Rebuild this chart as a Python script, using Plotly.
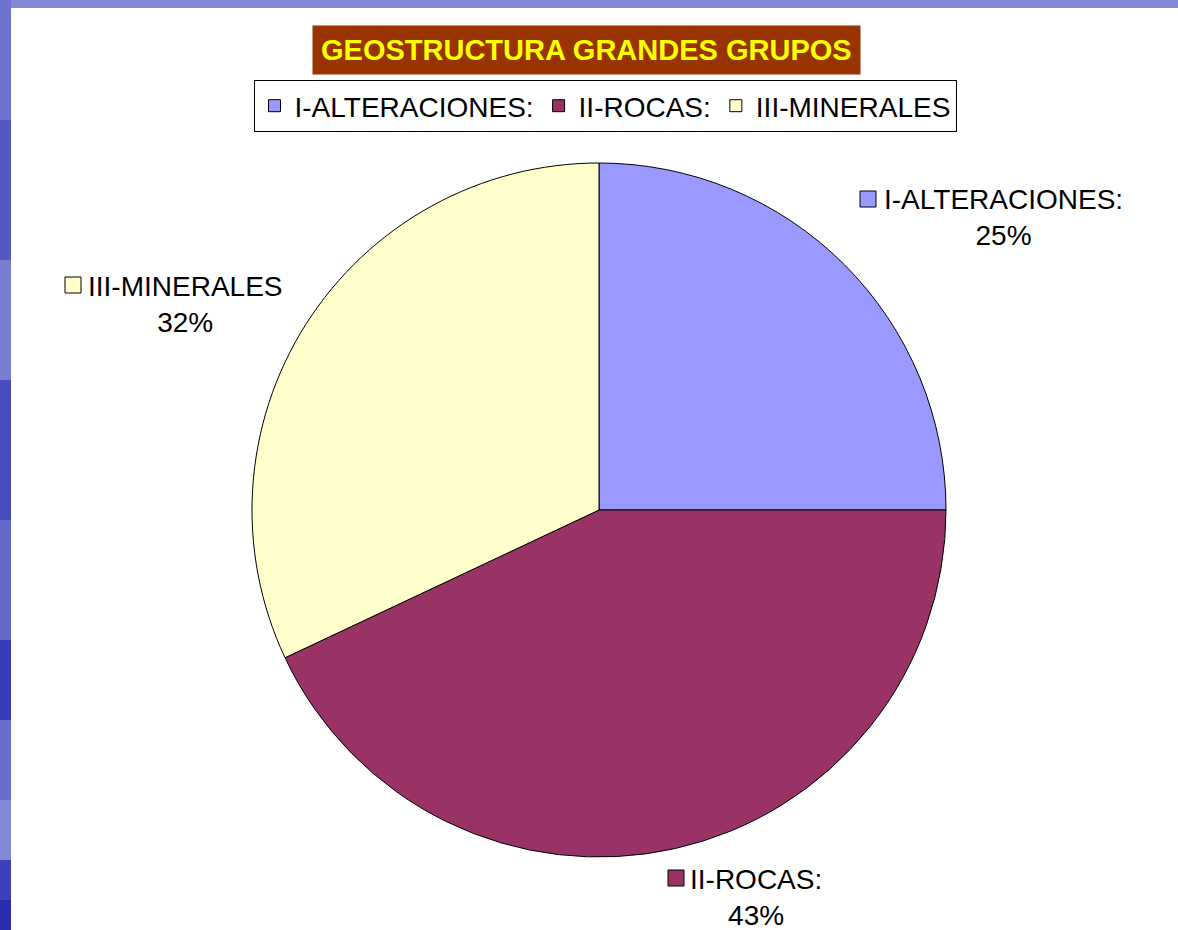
import plotly.graph_objects as go

# data
grupos = ["I-ALTERACIONES:", "II-ROCAS:", "III-MINERALES"]
valores = [25, 43, 32]
colores = ["#9999FF", "#993366", "#FFFFCC"]
titulo = "GEOSTRUCTURA GRANDES GRUPOS"

W, H = 1178, 930
def px(x, y):
    return x / W, 1 - y / H

total = sum(valores)
pct = [f"{round(100 * v / total)}%" for v in valores]

fig = go.Figure()
x0, y1 = px(252, 163)
x1, y0 = px(946, 857)
fig.add_trace(go.Pie(
    labels=grupos, values=valores, sort=False, direction="clockwise", rotation=0,
    marker=dict(colors=colores, line=dict(color="black", width=1)),
    textinfo="none", hoverinfo="label+percent",
    domain=dict(x=[x0, x1], y=[y0, y1]),
))

# background: textured blue band on top/left, white panel
shapes = []
band = [(0, "#6f72cc"), (120, "#5558c2"), (260, "#7a7dd0"), (380, "#4a4dbd"),
        (520, "#6568c8"), (640, "#3a3cb6"), (720, "#6a6dca"), (800, "#8488d4"),
        (860, "#3d3fb8"), (900, "#2b2db0")]
for i, (yy, col) in enumerate(band):
    yend = band[i + 1][0] if i + 1 < len(band) else H
    bx0, by1 = px(0, yy)
    bx1, by0 = px(11, yend)
    shapes.append(dict(type="rect", xref="paper", yref="paper", x0=bx0, x1=bx1, y0=by0, y1=by1,
                       fillcolor=col, line=dict(width=0), layer="below"))
shapes.append(dict(type="rect", xref="paper", yref="paper", x0=11 / W, x1=1, y0=0, y1=1 - 8 / H,
                   fillcolor="white", line=dict(width=0), layer="below"))

# data labels (Excel style, with key square)
lab_pos = [(1003, 200, 860), (756, 879, 668), (185, 286, 65)]
annotations = []
for g, p, c, (cx, cy, sqx) in zip(grupos, pct, colores, lab_pos):
    ax, ay = px(cx, cy + 18)
    annotations.append(dict(x=ax, y=ay, xref="paper", yref="paper", text=f"{g}<br>{p}",
                            showarrow=False, xanchor="center", yanchor="middle",
                            font=dict(family="Arial, Liberation Sans", size=28, color="black")))
    sx0, sy1 = px(sqx, cy - 9)
    sx1, sy0 = px(sqx + 16, cy + 7)
    shapes.append(dict(type="rect", xref="paper", yref="paper", x0=sx0, x1=sx1, y0=sy0, y1=sy1,
                       fillcolor=c, line=dict(color="black", width=1)))

tx, ty = px(586, 50)
annotations.append(dict(x=tx, y=ty, xref="paper", yref="paper", text=f"<b>{titulo}</b>",
                        showarrow=False, xanchor="center", yanchor="middle",
                        bgcolor="#993300", borderpad=8,
                        font=dict(family="Arial, Liberation Sans", size=29, color="#FFFF00")))

lx, ly = px(605, 80)
fig.update_layout(
    width=W, height=H,
    margin=dict(l=0, r=0, t=0, b=0),
    paper_bgcolor="#8387d4",
    plot_bgcolor="white",
    shapes=shapes,
    annotations=annotations,
    showlegend=True,
    legend=dict(orientation="h", x=lx, y=ly, xanchor="center", yanchor="top",
                bgcolor="white", bordercolor="black", borderwidth=1,
                font=dict(family="Arial, Liberation Sans", size=28, color="black"),
                itemwidth=30, tracegroupgap=0),
)

fig.write_html("out.html", config={"displayModeBar": False},
               post_script="document.body.style.margin='0';")
